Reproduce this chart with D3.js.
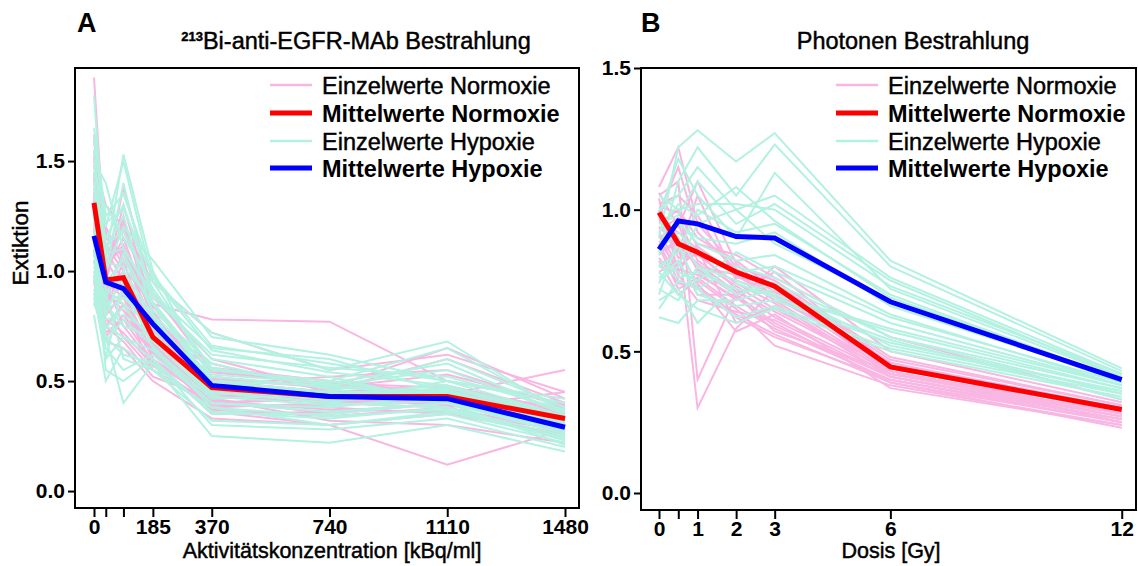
<!DOCTYPE html>
<html><head><meta charset="utf-8">
<script src="https://cdn.jsdelivr.net/npm/d3@7"></script>
<style>body{margin:0;background:#fff}svg{display:block;font-family:"Liberation Sans",Arial,sans-serif}
.heavy{stroke:#000;stroke-width:0.45px}</style>
</head><body><svg id="c" width="1138" height="566"></svg>
<script>
// ---------- data ----------
const doseA = [0, 37, 92.5, 185, 370, 740, 1110, 1480];
const tickValsA = [0, 37, 92.5, 185, 370, 740, 1110, 1480];
const tickLabelsA = ["0", "", "", "185", "370", "740", "1110", "1480"];
const doseB = [0, 0.5, 1, 2, 3, 6, 12];
const tickValsB = [0, 0.5, 1, 2, 3, 6, 12];
const tickLabelsB = ["0", "", "1", "2", "3", "6", "12"];
const yTicksA = [0, 0.5, 1.0, 1.5];
const yTicksB = [0, 0.5, 1.0, 1.5];

const meanNormA = [1.31, 0.96, 0.97, 0.70, 0.47, 0.43, 0.43, 0.33];
const meanHypA  = [1.16, 0.95, 0.92, 0.76, 0.48, 0.43, 0.42, 0.29];
const meanNormB = [0.99, 0.88, 0.85, 0.78, 0.73, 0.445, 0.295];
const meanHypB  = [0.86, 0.96, 0.95, 0.905, 0.90, 0.675, 0.40];

const singleNormA = [
 [1.88,1.05,1.10,0.80,0.50,0.45,0.42,0.35],[1.60,1.00,1.38,0.90,0.55,0.48,0.45,0.38],
 [1.45,0.95,1.25,0.75,0.48,0.40,0.45,0.30],[1.35,0.85,1.10,0.70,0.45,0.42,0.40,0.32],
 [1.30,0.90,1.00,0.65,0.40,0.38,0.35,0.28],[1.25,1.10,0.95,0.72,0.50,0.45,0.48,0.36],
 [1.20,0.80,0.90,0.60,0.42,0.35,0.40,0.30],[1.40,1.20,1.05,0.85,0.78,0.77,0.50,0.40],
 [1.15,0.75,0.85,0.55,0.38,0.40,0.42,0.33],[1.50,1.30,1.20,0.95,0.72,0.55,0.62,0.45],
 [1.10,0.70,0.80,0.62,0.45,0.44,0.46,0.35],[1.28,0.95,0.75,0.58,0.36,0.30,0.12,0.28],
 [1.32,1.00,1.15,0.78,0.52,0.47,0.65,0.42],[0.95,0.68,0.65,0.50,0.33,0.30,0.35,0.26],
 [1.00,0.85,0.70,0.55,0.40,0.42,0.44,0.55],[1.38,1.05,0.92,0.68,0.46,0.44,0.40,0.30],
 [1.22,0.92,0.98,0.73,0.47,0.40,0.38,0.27],[1.42,0.98,1.30,0.82,0.44,0.46,0.60,0.40],
 [0.88,0.75,0.68,0.52,0.42,0.32,0.30,0.22],[1.18,0.88,0.85,0.62,0.40,0.43,0.45,0.34],
 [1.55,1.12,1.00,0.74,0.56,0.50,0.44,0.36],[1.26,0.82,1.05,0.66,0.43,0.41,0.44,0.32],
 [1.12,0.95,0.88,0.60,0.35,0.36,0.40,0.30],[1.48,1.08,1.18,0.88,0.60,0.46,0.42,0.35],
 [1.05,0.78,0.72,0.57,0.39,0.39,0.41,0.31],[1.34,0.93,0.96,0.70,0.48,0.52,0.55,0.38],
 [1.62,1.15,1.08,0.76,0.58,0.45,0.43,0.28],[1.20,0.90,0.82,0.64,0.37,0.34,0.38,0.45],
 [1.44,1.02,1.12,0.79,0.46,0.42,0.39,0.33],[1.16,0.86,0.94,0.67,0.44,0.40,0.43,0.29],
 [1.36,1.18,1.02,0.84,0.54,0.49,0.47,0.37],[0.98,0.72,0.78,0.59,0.41,0.37,0.36,0.25],
 [1.52,0.97,1.22,0.81,0.51,0.47,0.53,0.39],[1.08,0.80,0.90,0.63,0.43,0.41,0.45,0.31]
];
const singleHypA = [
 [1.80,1.05,1.53,1.00,0.50,0.45,0.40,0.30],[1.60,1.20,1.50,0.95,0.72,0.55,0.68,0.35],
 [1.50,1.40,1.10,0.90,0.65,0.60,0.45,0.33],[1.45,0.90,0.60,0.55,0.38,0.30,0.35,0.22],
 [1.35,1.10,1.25,0.80,0.55,0.50,0.42,0.28],[1.25,0.95,1.05,0.85,0.48,0.45,0.60,0.38],
 [1.15,0.55,0.50,0.60,0.30,0.28,0.33,0.20],[1.05,0.70,0.40,0.58,0.25,0.22,0.30,0.18],
 [0.95,0.85,0.75,0.70,0.45,0.40,0.38,0.25],[0.90,0.60,0.95,0.65,0.42,0.44,0.48,0.32],
 [0.85,0.75,0.70,0.60,0.35,0.35,0.40,0.28],[1.30,1.00,1.20,1.05,0.70,0.62,0.50,0.40],
 [1.20,0.92,0.85,0.75,0.52,0.47,0.45,0.30],[1.00,0.80,1.00,0.80,0.45,0.40,0.50,0.34],
 [1.40,1.15,1.30,0.90,0.60,0.52,0.40,0.26],[0.80,0.50,0.65,0.55,0.32,0.30,0.36,0.24],
 [1.10,0.85,0.90,0.70,0.44,0.45,0.42,0.29],[1.22,1.30,1.15,0.95,0.55,0.50,0.65,0.36],
 [1.55,1.00,1.40,0.85,0.50,0.42,0.46,0.31],[0.88,0.65,0.55,0.62,0.40,0.38,0.44,0.27],
 [1.08,0.78,0.80,0.72,0.46,0.43,0.47,0.33],[1.28,1.08,1.10,0.88,0.62,0.56,0.52,0.37],
 [0.92,0.70,0.62,0.58,0.36,0.33,0.38,0.23],[1.18,0.95,0.98,0.78,0.50,0.48,0.55,0.35],
 [1.02,0.88,1.08,0.82,0.58,0.46,0.42,0.27],[1.65,1.25,1.35,0.98,0.66,0.58,0.50,0.42],
 [0.98,0.60,0.70,0.64,0.40,0.36,0.40,0.21],[1.12,0.98,0.92,0.74,0.48,0.44,0.45,0.30],
 [1.38,1.12,1.18,0.92,0.56,0.48,0.44,0.32],[0.86,0.68,0.78,0.66,0.38,0.34,0.37,0.24],
 [1.48,1.22,1.28,0.97,0.64,0.54,0.48,0.34],[1.14,0.82,0.88,0.76,0.47,0.41,0.43,0.28],
 [0.96,0.74,0.84,0.68,0.43,0.39,0.41,0.26],[1.26,1.04,1.02,0.86,0.53,0.49,0.58,0.35]
];
const singleNormB = [
 [1.08,1.22,0.95,0.80,0.75,0.48,0.31],[1.05,1.10,0.40,0.70,0.78,0.45,0.30],
 [1.00,0.90,0.30,0.58,0.72,0.42,0.28],[0.98,0.85,1.05,0.75,0.70,0.44,0.29],
 [0.95,1.00,0.90,0.82,0.72,0.46,0.30],[0.92,0.80,0.85,0.72,0.62,0.42,0.27],
 [0.90,0.95,0.78,0.68,0.80,0.50,0.32],[0.88,0.75,0.72,0.62,0.55,0.40,0.25],
 [0.85,0.88,0.80,0.77,0.68,0.43,0.28],[0.82,0.70,0.75,0.65,0.52,0.38,0.24],
 [1.02,1.05,0.98,0.76,0.74,0.47,0.31],[0.96,0.92,0.86,0.60,0.66,0.41,0.26],
 [0.78,0.82,0.70,0.70,0.60,0.39,0.23],[1.04,0.78,0.88,0.84,0.76,0.55,0.33],
 [0.93,0.97,0.82,0.73,0.65,0.44,0.29],[0.87,0.72,0.76,0.66,0.58,0.40,0.26],
 [0.99,1.15,0.92,0.79,0.71,0.45,0.30],[0.80,0.86,0.74,0.57,0.63,0.37,0.24],
 [1.06,0.94,1.10,0.81,0.69,0.46,0.28],[0.91,0.77,0.68,0.64,0.61,0.41,0.27],
 [0.84,0.90,0.79,0.70,0.57,0.43,0.25],[0.97,0.83,0.84,0.74,0.67,0.42,0.30],
 [0.94,0.87,0.81,0.71,0.64,0.43,0.27],[1.01,0.99,0.87,0.77,0.70,0.44,0.29],
 [0.89,0.79,0.77,0.69,0.59,0.41,0.26],[0.83,0.74,0.73,0.63,0.56,0.39,0.25]
];
const singleHypB = [
 [0.90,1.22,1.28,1.17,1.27,0.82,0.44],[0.85,1.10,1.22,1.05,1.23,0.80,0.43],
 [1.00,1.05,1.15,1.00,1.05,0.76,0.42],[0.95,0.98,1.10,0.95,1.02,0.75,0.41],
 [1.05,1.00,1.02,1.02,1.00,0.73,0.42],[0.80,0.85,1.00,0.92,0.95,0.70,0.40],
 [0.75,0.80,0.95,1.00,0.88,0.68,0.39],[0.70,0.90,0.80,0.75,0.70,0.58,0.38],
 [0.65,0.75,0.72,0.80,0.76,0.55,0.37],[0.62,0.60,0.68,0.68,0.72,0.52,0.36],
 [0.78,0.70,0.65,0.60,0.65,0.50,0.34],[0.82,0.78,0.75,0.85,0.78,0.60,0.38],
 [0.88,0.95,0.90,0.88,0.92,0.66,0.40],[0.72,0.68,0.80,0.70,0.74,0.55,0.35],
 [0.98,1.18,1.05,0.90,1.13,0.72,0.41],[0.76,0.82,0.70,0.66,0.68,0.53,0.36],
 [0.86,0.92,0.85,0.78,0.80,0.62,0.39],[0.68,0.72,0.60,0.74,0.69,0.54,0.33],
 [0.92,1.02,0.98,1.08,0.96,0.69,0.40],[0.80,0.76,0.78,0.72,0.70,0.57,0.37],
 [0.74,0.88,0.72,0.62,0.66,0.51,0.35],[0.84,0.96,0.88,0.82,0.84,0.63,0.38]
];
const legendLabels = ["Einzelwerte Normoxie","Mittelwerte Normoxie","Einzelwerte Hypoxie","Mittelwerte Hypoxie"];

// ---------- styles ----------
const PINK = "#f8b7e3", TEAL = "#b3f1e1", RED = "#ff0000", BLUE = "#0000ff";
const FONT = "Liberation Sans, Arial, sans-serif";
const svg = d3.select("#c");

function panel(cfg) {
  const x = d3.scaleLinear().domain(cfg.xDomain).range([cfg.left, cfg.right]);
  const y = d3.scaleLinear().domain(cfg.yDomain).range([cfg.bottom, cfg.top]);
  const g = svg.append("g");
  const line = d3.line().x((d, i) => x(cfg.dose[i])).y(d => y(d));
  const clipId = "clip" + cfg.id;
  svg.append("clipPath").attr("id", clipId).append("rect")
    .attr("x", cfg.left).attr("y", cfg.top).attr("width", cfg.right - cfg.left).attr("height", cfg.bottom - cfg.top);
  const plot = g.append("g").attr("clip-path", `url(#${clipId})`);
  plot.selectAll(".pn").data(cfg.sn).join("path").attr("d", line)
    .attr("fill", "none").attr("stroke", PINK).attr("stroke-width", 2);
  plot.selectAll(".th").data(cfg.sh).join("path").attr("d", line)
    .attr("fill", "none").attr("stroke", TEAL).attr("stroke-width", 2);
  plot.append("path").attr("d", line(cfg.mn)).attr("fill", "none").attr("stroke", RED).attr("stroke-width", 5);
  plot.append("path").attr("d", line(cfg.mh)).attr("fill", "none").attr("stroke", BLUE).attr("stroke-width", 5);

  // frame
  g.append("rect").attr("x", cfg.left).attr("y", cfg.top).attr("width", cfg.right - cfg.left)
    .attr("height", cfg.bottom - cfg.top).attr("fill", "none").attr("stroke", "#000").attr("stroke-width", 2);

  // axes
  const xAxis = d3.axisBottom(x).tickValues(cfg.xTicks).tickFormat((d, i) => cfg.xLabels[i]).tickSizeOuter(0).tickSize(9).tickPadding(2);
  const gx = g.append("g").attr("transform", `translate(0,${cfg.bottom})`).call(xAxis);
  gx.select(".domain").remove();
  gx.selectAll("line").attr("stroke", "#000").attr("stroke-width", 2);
  gx.selectAll("text").attr("font-size", 21).attr("font-weight", "bold").attr("fill", "#000").attr("font-family", FONT);
  const yAxis = d3.axisLeft(y).tickValues(cfg.yTicks).tickFormat(d3.format(".1f")).tickSizeOuter(0).tickSize(7).tickPadding(3);
  const gy = g.append("g").attr("transform", `translate(${cfg.left},0)`).call(yAxis);
  gy.select(".domain").remove();
  gy.selectAll("line").attr("stroke", "#000").attr("stroke-width", 2);
  gy.selectAll("text").attr("font-size", 21).attr("font-weight", "bold").attr("fill", "#000").attr("font-family", FONT);

  // labels
  g.append("text").attr("class", "heavy").attr("x", cfg.xLabelX).attr("y", 558).attr("text-anchor", "middle")
    .attr("font-size", 21.5).text(cfg.xLabel);
  g.append("text").attr("x", cfg.letterX).attr("y", 32).attr("font-size", 27).attr("font-weight", "bold").text(cfg.letter);
  const t = g.append("text").attr("class", "heavy").attr("x", cfg.titleX).attr("y", 49).attr("text-anchor", "middle").attr("font-size", 23.5);
  if (cfg.sup) {
    t.append("tspan").attr("font-size", 13).attr("font-weight", "bold").attr("dy", -8).text(cfg.sup);
    t.append("tspan").attr("dy", 8).text(cfg.title);
  } else t.text(cfg.title);

  // legend
  const styles = [[PINK, 2.5, "normal"], [RED, 5, "bold"], [TEAL, 2.5, "normal"], [BLUE, 5, "bold"]];
  const rows = [85, 113, 141, 168];
  legendLabels.forEach((lab, i) => {
    g.append("line").attr("x1", cfg.legX).attr("x2", cfg.legX + 42).attr("y1", rows[i]).attr("y2", rows[i])
      .attr("stroke", styles[i][0]).attr("stroke-width", styles[i][1]);
    g.append("text").attr("class", styles[i][2] === "normal" ? "heavy" : null)
      .attr("x", cfg.legX + 52).attr("y", rows[i] + 8.5).attr("font-size", 23.5)
      .attr("font-weight", styles[i][2]).text(lab);
  });
}

panel({id: "A", dose: doseA, left: 75, right: 579, top: 68, bottom: 508,
  xDomain: [-59.7, 1524], yDomain: [-0.077, 1.923],
  xTicks: tickValsA, xLabels: tickLabelsA, yTicks: yTicksA,
  sn: singleNormA, sh: singleHypA, mn: meanNormA, mh: meanHypA,
  xLabel: "Aktivitätskonzentration [kBq/ml]", xLabelX: 332,
  letter: "A", letterX: 77, title: "Bi-anti-EGFR-MAb Bestrahlung", sup: "213", titleX: 356, legX: 270});

panel({id: "B", dose: doseB, left: 641, right: 1136, top: 68, bottom: 510,
  xDomain: [-0.467, 12.37], yDomain: [-0.06, 1.5],
  xTicks: tickValsB, xLabels: tickLabelsB, yTicks: yTicksB,
  sn: singleNormB, sh: singleHypB, mn: meanNormB, mh: meanHypB,
  xLabel: "Dosis [Gy]", xLabelX: 891,
  letter: "B", letterX: 641, title: "Photonen Bestrahlung", sup: null, titleX: 913, legX: 836});

// y label
svg.append("text").attr("class", "heavy").attr("transform", "translate(28,243) rotate(-90)").attr("text-anchor", "middle")
  .attr("font-size", 22.5).text("Extiktion");
</script></body></html>
